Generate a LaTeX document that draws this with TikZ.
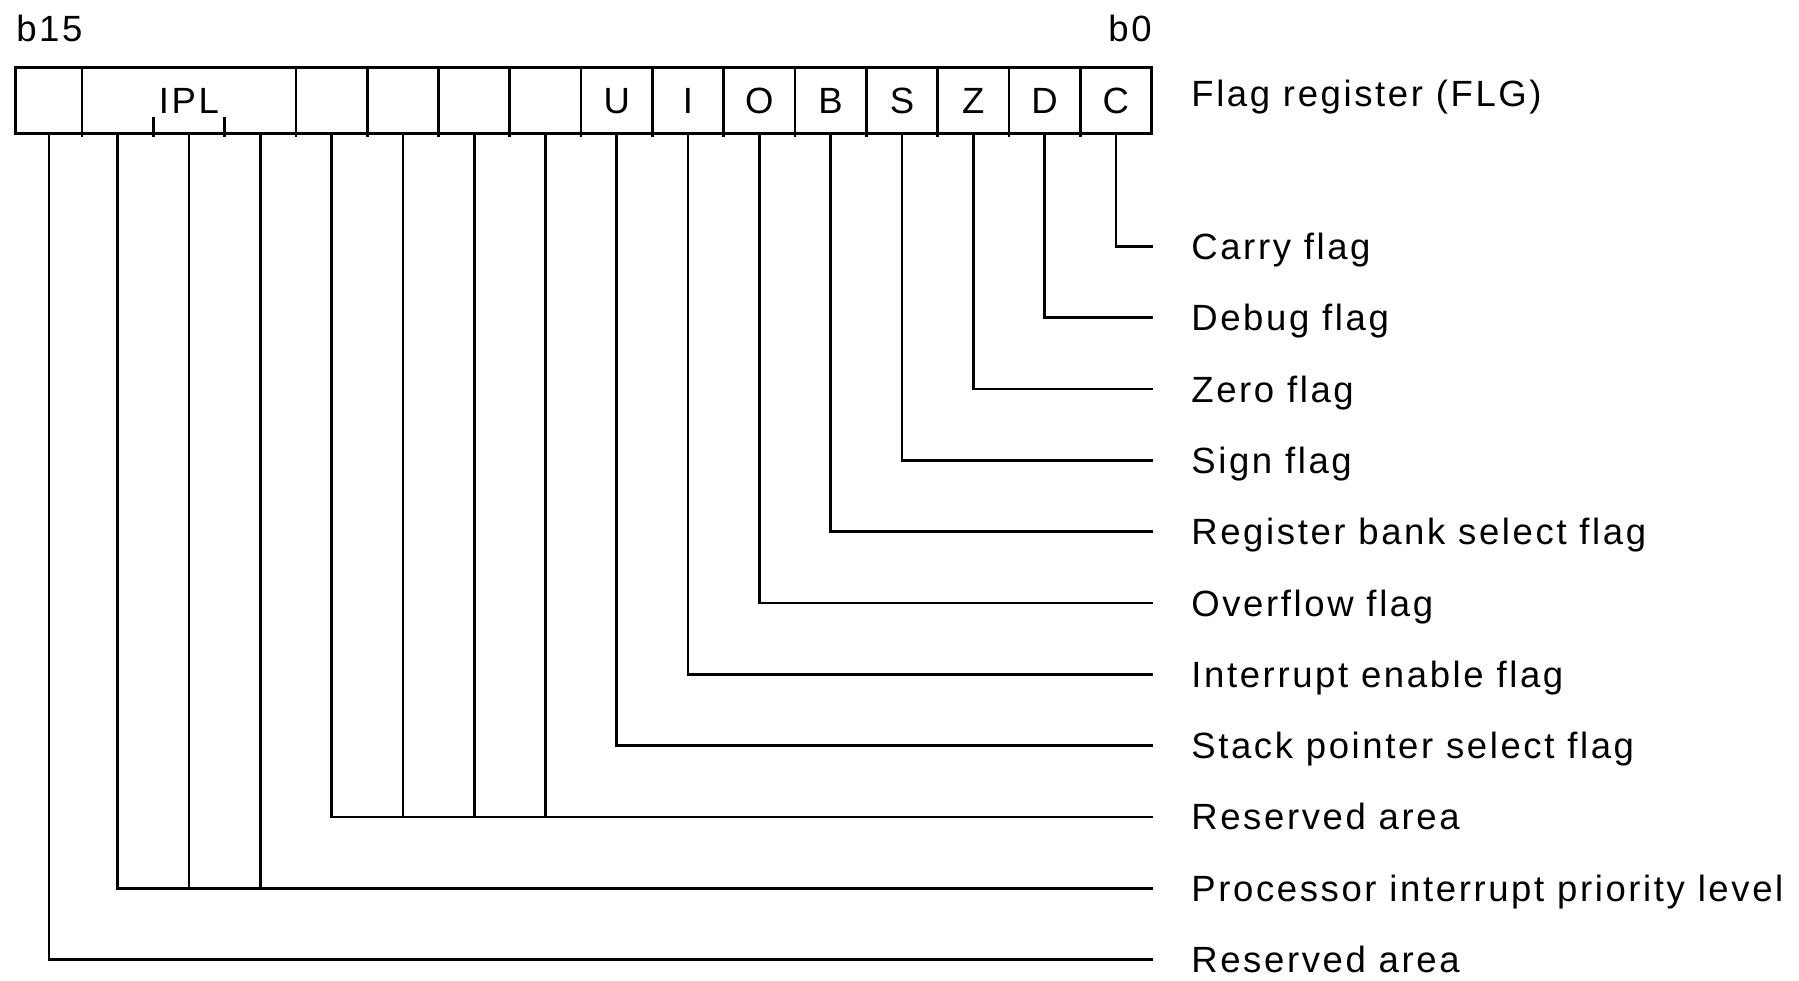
\documentclass[tikz,border=0pt]{standalone}
\usepackage{fontspec}
\setmainfont{Liberation Sans}[LetterSpace=7.2,Ligatures=NoCommon]
\usetikzlibrary{positioning}

\begin{document}
\begin{tikzpicture}[x=1pt,y=-1pt,line width=2.7pt,
  font=\fontsize{36.5}{44}\selectfont,
  bit/.style={minimum width=71.3pt,minimum height=66pt,inner sep=0pt,outer sep=0pt},
  flag/.style={anchor=west,inner xsep=37pt,inner ysep=0pt,text height=26pt,text depth=0pt}]
\useasboundingbox (0,0) rectangle (1799,981);
% bit cells, b15 on the left
\node[bit,minimum width=66.3pt,anchor=west] (b15) at (15.7,100.7) {};
\foreach \i/\t [remember=\i as \prev (initially 15)] in {14/{},13/IPL,12/{},11/{},10/{},9/{},8/{},7/U,6/I,5/O,4/B,3/S,2/Z,1/D,0/C}
  \node[bit,right=0pt of b\prev] (b\i) {\t};
\node[anchor=base west,inner sep=0pt] (msb) at (15,41.7) {b15};
\node[anchor=base east,inner sep=0pt] (lsb) at (1153,41.7) {b0};
\node[anchor=base west,inner sep=0pt] (flg) at (1190,106.7) {Flag register (FLG)};
% frame and dividers
\draw (b15.north west) rectangle (b0.south east);
\foreach \i in {15,12,11,10,9,8,7,6,5,4,3,2,1}
  \draw[shorten >=-3pt] (b\i.north east) -- (b\i.south east);
% IPL field: short ticks only
\foreach \i in {14,13}
  \draw[shorten >=-3pt] ([yshift=17pt]b\i.south east) -- (b\i.south east);
% flag names
\foreach \n/\t [count=\k from 0] in {carry/Carry flag,debug/Debug flag,zero/Zero flag,sign/Sign flag,bank/Register bank select flag,ovf/Overflow flag,inten/Interrupt enable flag,stksel/Stack pointer select flag,rsvlo/Reserved area,ipl/Processor interrupt priority level,rsvhi/Reserved area}
  \node[flag] (\n) at (1153,{246.5+71.3*\k}) {\t};
% leader lines
\foreach \i/\n in {0/carry,1/debug,2/zero,3/sign,4/bank,5/ovf,6/inten,7/stksel,11/rsvlo,14/ipl,15/rsvhi}
  \draw (b\i.south) |- (\n.west);
\foreach \i/\n in {10/rsvlo,9/rsvlo,8/rsvlo,13/ipl,12/ipl}
  \draw (b\i.south) -- (b\i.south |- \n.west);
\end{tikzpicture}
\end{document}
